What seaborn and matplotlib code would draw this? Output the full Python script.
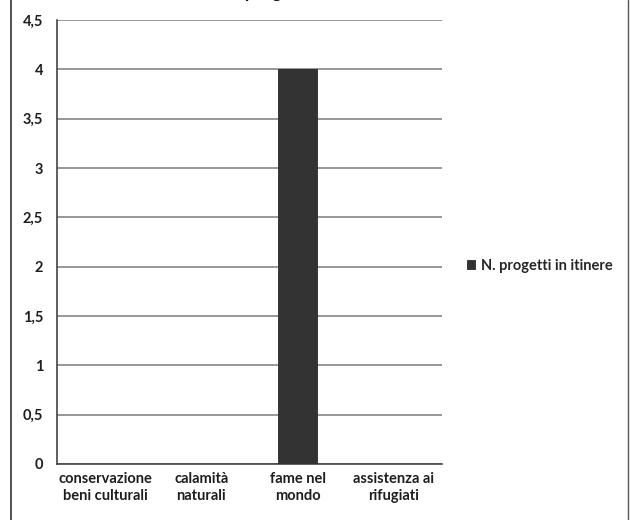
import matplotlib
matplotlib.use("Agg")
import matplotlib.pyplot as plt
import seaborn as sns
from matplotlib.lines import Line2D
from matplotlib.ticker import FixedLocator, FuncFormatter

# data
categories = ["conservazione\nbeni culturali", "calamità\nnaturali", "fame nel\nmondo", "assistenza ai\nrifugiati"]
values = [0, 0, 4, 0]
series_name = "N. progetti in itinere"
title = "Numero totale dei progetti in itinere - anno 2011"
y_ticks = [0, 0.5, 1, 1.5, 2, 2.5, 3, 3.5, 4, 4.5]

sns.set_style("white")
plt.rcParams["font.family"] = ["Lato", "DejaVu Sans"]

fig = plt.figure(figsize=(6.3, 5.2), dpi=100)
ax = fig.add_axes([0.0905, 0.1077, 0.6111, 0.8538])

sns.barplot(x=categories, y=values, color="#333333", width=0.4, saturation=1,
            edgecolor="#2a2a2a", linewidth=0.6, label=series_name, ax=ax, zorder=3)

ax.set_xlim(-0.5, len(categories) - 0.5)
ax.set_ylim(0, 4.5)
ax.set_yticks(y_ticks)
ax.yaxis.set_major_formatter(FuncFormatter(lambda v, p: f"{v:g}".replace(".", ",")))
ax.yaxis.grid(True, color="#7a7a7a", linewidth=1.1, zorder=0)
ax.set_axisbelow(True)

# category boundary tick marks on x
ax.xaxis.set_minor_locator(FixedLocator([i - 0.5 for i in range(len(categories) + 1)]))
ax.tick_params(axis="x", which="major", length=0, pad=6, labelsize=10.5, colors="#1e1e1e")
ax.tick_params(axis="x", which="minor", length=5, width=1, color="#555555", direction="out")
ax.tick_params(axis="y", which="major", length=5, width=1, color="#555555", direction="out",
               labelsize=10.5, colors="#1e1e1e", pad=5)
for lab in ax.get_yticklabels() + ax.get_xticklabels():
    lab.set_fontweight("bold")

for side in ["top", "right"]:
    ax.spines[side].set_visible(False)
for side in ["left", "bottom"]:
    ax.spines[side].set_color("#444444")
    ax.spines[side].set_linewidth(1.2)
ax.set_xlabel("")
ax.set_ylabel("")

leg = ax.legend(loc="center left", bbox_to_anchor=(1.03, 0.446), frameon=False,
                handlelength=0.6, handleheight=0.6, handletextpad=0.4,
                prop={"size": 10.5, "weight": "bold"})

# chart title, cut off by the top edge in the original
fig.text(0.46, 1 + 2 / 520, title, ha="center", va="baseline",
         fontsize=13, fontweight="bold", color="#111111")

# chart area border (left and right edges visible)
fig.add_artist(Line2D([11 / 630, 11 / 630], [0, 1], color="#333333", linewidth=1.2))
fig.add_artist(Line2D([628 / 630, 628 / 630], [0, 1], color="#555555", linewidth=1.0))

fig.savefig("out.png", dpi=100)
